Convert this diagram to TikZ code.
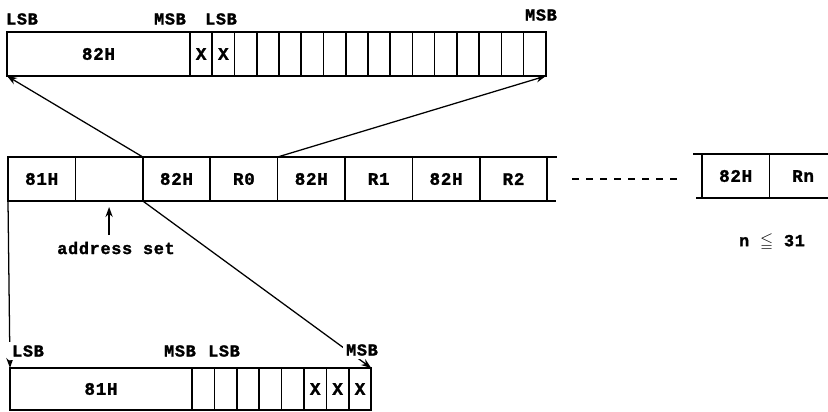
\documentclass[tikz,border=0pt]{standalone}
\usepackage{fontspec}
\usepackage{amssymb}
\newfontfamily\regfont{Liberation Mono}[LetterSpace=4.0, BoldFeatures={FakeBold=1.5}]
\usetikzlibrary{arrows.meta, positioning}
\tikzset{
  field/.style={
    rectangle, draw=black, line width=1.2pt, outer sep=0pt, inner sep=0pt,
    minimum height=11mm, font=\regfont\bfseries\fontsize{12.5}{14}\selectfont,
  },
  bitcell/.style={field, minimum width=5.56mm},
  bytecell/.style={field, minimum width=16.85mm},
  rail/.style={line width=1.2pt},
  link/.style={
    -{Stealth[length=2.5mm, width=1.8mm]}, line width=0.9pt, draw=black,
  },
  dotline/.style={line width=1.2pt, dash pattern=on 1.6mm off 1.9mm},
  lbl/.style={font=\regfont\bfseries\fontsize{12}{14}\selectfont, inner sep=1pt},
  onlink/.style={lbl, fill=white, inner sep=0.8mm},
}
\begin{document}
\begin{tikzpicture}[x=0.25mm, y=-0.25mm]
  \useasboundingbox (0,0) rectangle (828,412);

  % upper register: 82H byte then 16 bits
  \node[field, minimum width=45.75mm, anchor=north west] (t0) at (7,32) {82H};
  \foreach \i [count=\j from 0] in {1,...,16}
    \node[bitcell, right=0pt of t\j] (t\i) {\ifnum\i<3 X\fi};

  % command string
  \node[bytecell, anchor=north west] (m1) at (8,157) {81H};
  \foreach \txt [count=\i from 2] in {{}, 82H, R0, 82H, R1, 82H, R2} {
    \pgfmathtruncatemacro\j{\i-1}
    \node[bytecell, right=0pt of m\j] (m\i) {\txt};
  }
  \draw[rail] (m8.north east) -- ++(10,0);
  \draw[rail] (m8.south east) -- ++(9,0);

  \node[bytecell, anchor=north west] (r1) at (702,154) {82H};
  \node[bytecell, right=0pt of r1] (r2) {Rn};
  \draw[rail] (r1.north west) -- ++(-9,0);
  \draw[rail] (r1.south west) -- ++(-6,0);

  \draw[dotline] ([xshift=6.25mm]m8.east) -- ([xshift=-4.75mm]m8.east -| r1.west);

  % lower register: 81H byte then 8 bits
  \node[field, minimum width=45.5mm, minimum height=10.5mm, anchor=north west]
    (b0) at (10,368) {81H};
  \foreach \i [count=\j from 0] in {1,...,8}
    \node[bitcell, minimum width=5.6mm, minimum height=10.5mm, right=0pt of b\j]
      (b\i) {\ifnum\i>5 X\fi};

  % expansion arrows
  \draw[link] (m3.north west) -- (t0.south west);
  \draw[link] (m5.north west) -- (t16.south east);
  \draw[link] (m1.south west) -- (b0.north west);
  \draw[link] (m3.south west) -- (b8.north east);

  \node[lbl] (tl1) at (22,19) {LSB};
  \node[lbl] (tm1) at (170,19) {MSB};
  \node[lbl] (tl2) at (221,19) {LSB};
  \node[lbl] (tm2) at (541,15) {MSB};

  \node[onlink] (bl1) at (28,351) {LSB};
  \node[lbl] (bm1) at (180,351) {MSB};
  \node[lbl] (bl2) at (224,351) {LSB};
  \node[onlink] (bm2) at (362,350) {MSB};

  \node[lbl] (addr) at (116,248) {address set};
  \draw[link] ([yshift=1.25mm]addr.north -| m2.south) -- ([yshift=-1.5mm]m2.south);

  \node[lbl] (nmax) at (772,242) {n $\leqq$ 31};

\end{tikzpicture}
\end{document}
